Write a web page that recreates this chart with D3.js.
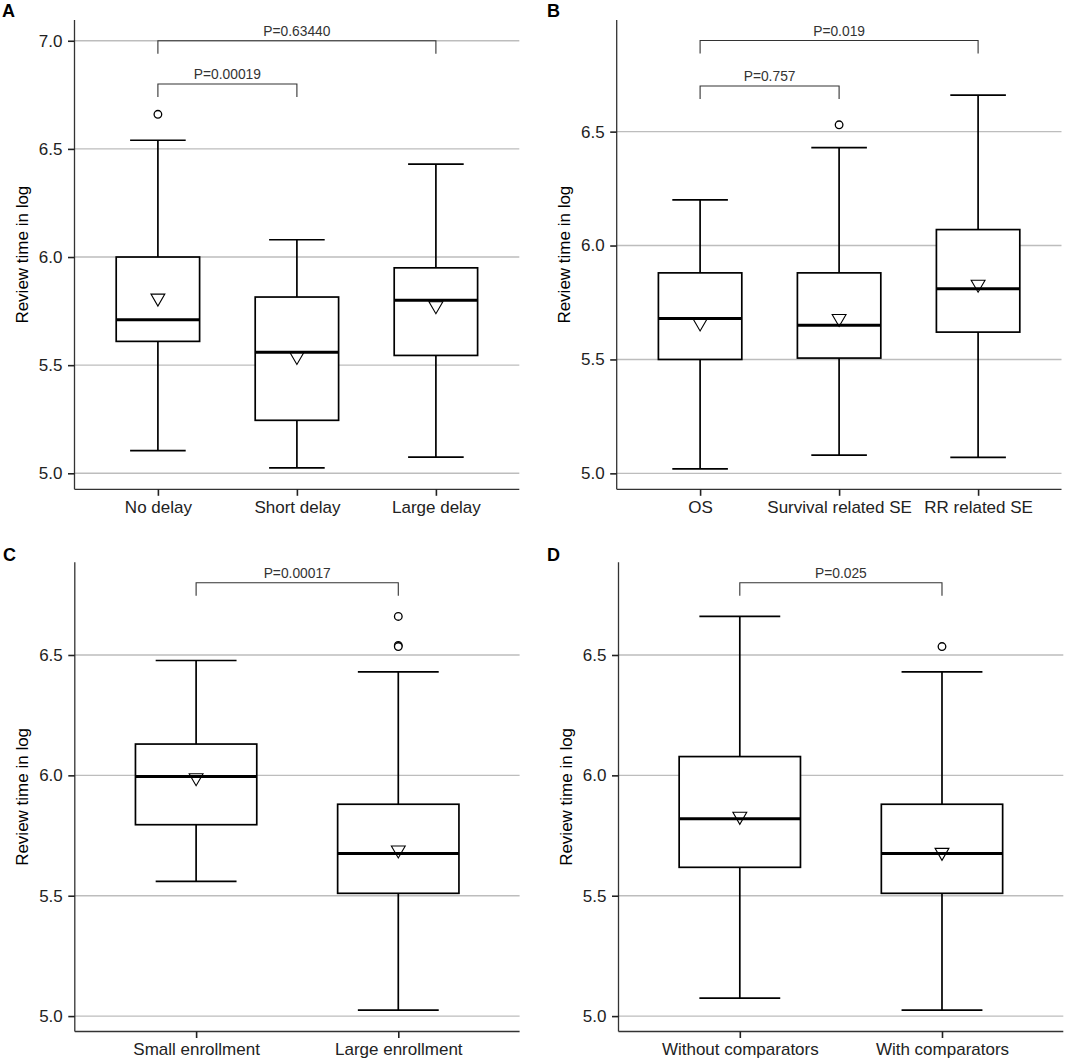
<!DOCTYPE html>
<html>
<head>
<meta charset="utf-8">
<script src="https://cdn.jsdelivr.net/npm/d3@7"></script>
<style>
  html, body { margin: 0; padding: 0; background: #fff; }
  svg { display: block; font-family: "Liberation Sans", Arial, Helvetica, sans-serif; }
</style>
</head>
<body>
<div id="chart"></div>
<script>
// Panel A - delay groups
const catsA = ['No delay', 'Short delay', 'Large delay'];
const lowA = [5.105, 5.025, 5.075];
const q1A = [5.61, 5.245, 5.545];
const medA = [5.71, 5.56, 5.80];
const q3A = [6.00, 5.815, 5.95];
const highA = [6.54, 6.08, 6.43];
const meanA = [5.81, 5.54, 5.775];
const outA = [[6.66], [], []];
const pA = [
  { from: 0, to: 2, y: 7.0, label: 'P=0.63440' },
  { from: 0, to: 1, y: 6.80, label: 'P=0.00019' }
];
const ticksA = [5.0, 5.5, 6.0, 6.5, 7.0];

// Panel B - endpoint type
const catsB = ['OS', 'Survival related SE', 'RR related SE'];
const lowB = [5.02, 5.08, 5.07];
const q1B = [5.50, 5.506, 5.62];
const medB = [5.68, 5.65, 5.81];
const q3B = [5.88, 5.88, 6.07];
const highB = [6.20, 6.43, 6.66];
const meanB = [5.66, 5.68, 5.83];
const outB = [[], [6.53], []];
const pB = [
  { from: 0, to: 2, y: 6.90, label: 'P=0.019' },
  { from: 0, to: 1, y: 6.70, label: 'P=0.757' }
];
const ticksB = [5.0, 5.5, 6.0, 6.5];

// Panel C - enrollment
const catsC = ['Small enrollment', 'Large enrollment'];
const lowC = [5.56, 5.025];
const q1C = [5.795, 5.51];
const medC = [5.995, 5.675];
const q3C = [6.13, 5.88];
const highC = [6.477, 6.43];
const meanC = [5.99, 5.69];
const outC = [[], [6.66, 6.54, 6.535]];
const pC = [{ from: 0, to: 1, y: 6.80, label: 'P=0.00017' }];
const ticksC = [5.0, 5.5, 6.0, 6.5];

// Panel D - comparators
const catsD = ['Without comparators', 'With comparators'];
const lowD = [5.075, 5.025];
const q1D = [5.618, 5.51];
const medD = [5.82, 5.675];
const q3D = [6.078, 5.88];
const highD = [6.66, 6.43];
const meanD = [5.83, 5.68];
const outD = [[], [6.535]];
const pD = [{ from: 0, to: 1, y: 6.80, label: 'P=0.025' }];
const ticksD = [5.0, 5.5, 6.0, 6.5];

const W = 1065;
const H = 1063;

function makeGroups(cats, low, q1, med, q3, high, mean, out) {
  return cats.map((c, i) => ({
    cat: c, low: low[i], q1: q1[i], med: med[i], q3: q3[i], high: high[i], mean: mean[i], out: out[i]
  }));
}

const panels = [
  { tag: 'A', groups: makeGroups(catsA, lowA, q1A, medA, q3A, highA, meanA, outA), p: pA, ticks: ticksA,
    x: [74.5, 519.3], y: [489.3, 20], domain: [4.926, 7.096], tagPos: [2, 17] },
  { tag: 'B', groups: makeGroups(catsB, lowB, q1B, medB, q3B, highB, meanB, outB), p: pB, ticks: ticksB,
    x: [616.7, 1061.5], y: [489.3, 20], domain: [4.93, 6.99], tagPos: [547, 17] },
  { tag: 'C', groups: makeGroups(catsC, lowC, q1C, medC, q3C, highC, meanC, outC), p: pC, ticks: ticksC,
    x: [74.8, 519.6], y: [1031.5, 562.3], domain: [4.936, 6.885], tagPos: [3, 561] },
  { tag: 'D', groups: makeGroups(catsD, lowD, q1D, medD, q3D, highD, meanD, outD), p: pD, ticks: ticksD,
    x: [618.5, 1063.3], y: [1031.5, 562.3], domain: [4.936, 6.885], tagPos: [547, 561] }
];

const svg = d3.select('#chart')
  .append('svg')
  .attr('width', W)
  .attr('height', H);

panels.forEach(drawPanel);

function drawPanel(p) {
  const g = svg.append('g');

  const x = d3.scalePoint()
    .domain(p.groups.map(d => d.cat))
    .range(p.x)
    .padding(0.6);
  const y = d3.scaleLinear()
    .domain(p.domain)
    .range(p.y);

  const step = x.step();
  const boxW = step * 0.6;
  const capW = step * 0.4;

  // horizontal grid
  g.selectAll('.grid')
    .data(p.ticks)
    .enter()
    .append('line')
    .attr('x1', p.x[0])
    .attr('x2', p.x[1])
    .attr('y1', d => y(d))
    .attr('y2', d => y(d))
    .attr('stroke', '#bdbdbd')
    .attr('stroke-width', 1.4);

  const box = g.selectAll('.box')
    .data(p.groups)
    .enter()
    .append('g');

  // whiskers
  box.append('line')
    .attr('x1', d => x(d.cat))
    .attr('x2', d => x(d.cat))
    .attr('y1', d => y(d.q3))
    .attr('y2', d => y(d.high))
    .attr('stroke', '#000')
    .attr('stroke-width', 1.7);
  box.append('line')
    .attr('x1', d => x(d.cat))
    .attr('x2', d => x(d.cat))
    .attr('y1', d => y(d.q1))
    .attr('y2', d => y(d.low))
    .attr('stroke', '#000')
    .attr('stroke-width', 1.7);
  ['high', 'low'].forEach(k => {
    box.append('line')
      .attr('x1', d => x(d.cat) - capW / 2)
      .attr('x2', d => x(d.cat) + capW / 2)
      .attr('y1', d => y(d[k]))
      .attr('y2', d => y(d[k]))
      .attr('stroke', '#000')
      .attr('stroke-width', 1.7);
  });

  // box
  box.append('rect')
    .attr('x', d => x(d.cat) - boxW / 2)
    .attr('width', boxW)
    .attr('y', d => y(d.q3))
    .attr('height', d => y(d.q1) - y(d.q3))
    .attr('fill', '#fff')
    .attr('stroke', '#000')
    .attr('stroke-width', 1.7);

  // mean (down triangle, R pch 6 geometry)
  const r = 8;
  box.append('path')
    .attr('d', d => {
      const cx = x(d.cat);
      const cy = y(d.mean);
      const hw = r * 0.866;
      return `M${cx - hw},${cy - r / 2}L${cx + hw},${cy - r / 2}L${cx},${cy + r}Z`;
    })
    .attr('fill', '#fff')
    .attr('stroke', '#000')
    .attr('stroke-width', 1.1);

  // median
  box.append('line')
    .attr('x1', d => x(d.cat) - boxW / 2)
    .attr('x2', d => x(d.cat) + boxW / 2)
    .attr('y1', d => y(d.med))
    .attr('y2', d => y(d.med))
    .attr('stroke', '#000')
    .attr('stroke-width', 3);

  // outliers
  box.selectAll('circle')
    .data(d => d.out.map(v => ({ cat: d.cat, v })))
    .enter()
    .append('circle')
    .attr('cx', d => x(d.cat))
    .attr('cy', d => y(d.v))
    .attr('r', 3.8)
    .attr('fill', '#fff')
    .attr('stroke', '#000')
    .attr('stroke-width', 1.3);

  // significance brackets
  const cats = p.groups.map(d => d.cat);
  const br = g.selectAll('.bracket')
    .data(p.p)
    .enter()
    .append('g');
  br.append('path')
    .attr('d', d => {
      const x1 = x(cats[d.from]);
      const x2 = x(cats[d.to]);
      const yy = y(d.y);
      return `M${x1},${yy + 13}V${yy}H${x2}V${yy + 13}`;
    })
    .attr('fill', 'none')
    .attr('stroke', '#333')
    .attr('stroke-width', 1.1);
  br.append('text')
    .attr('x', d => (x(cats[d.from]) + x(cats[d.to])) / 2)
    .attr('y', d => y(d.y) - 5)
    .attr('text-anchor', 'middle')
    .attr('font-size', '13.8px')
    .attr('fill', '#333')
    .text(d => d.label);

  // axes
  const yAxis = g.append('g')
    .attr('transform', `translate(${p.x[0]},0)`)
    .call(d3.axisLeft(y).tickValues(p.ticks).tickFormat(d3.format('.1f')).tickSize(6.5).tickPadding(5.5));
  yAxis.select('.domain')
    .attr('d', `M0,${p.y[1]}V${p.y[0]}`)
    .attr('stroke', '#333')
    .attr('stroke-width', 1.3);
  yAxis.selectAll('.tick line').attr('stroke', '#222').attr('stroke-width', 1.6);
  yAxis.selectAll('.tick text').attr('font-size', '17px').attr('fill', '#222');

  const xAxis = g.append('g')
    .attr('transform', `translate(0,${p.y[0]})`)
    .call(d3.axisBottom(x).tickSize(6.5).tickPadding(5));
  xAxis.select('.domain')
    .attr('d', `M${p.x[0]},0H${p.x[1]}`)
    .attr('stroke', '#333')
    .attr('stroke-width', 1.3);
  xAxis.selectAll('.tick line').attr('stroke', '#222').attr('stroke-width', 1.6);
  xAxis.selectAll('.tick text').attr('font-size', '17px').attr('fill', '#222');
  xAxis.attr('font-family', null);
  yAxis.attr('font-family', null);

  // y title
  g.append('text')
    .attr('transform', `translate(${p.x[0] - 47},${(p.y[0] + p.y[1]) / 2}) rotate(-90)`)
    .attr('text-anchor', 'middle')
    .attr('font-size', '17px')
    .attr('fill', '#000')
    .text('Review time in log');

  // panel tag
  g.append('text')
    .attr('x', p.tagPos[0])
    .attr('y', p.tagPos[1])
    .attr('font-size', '18px')
    .attr('font-weight', 'bold')
    .text(p.tag);
}
</script>
</body>
</html>
